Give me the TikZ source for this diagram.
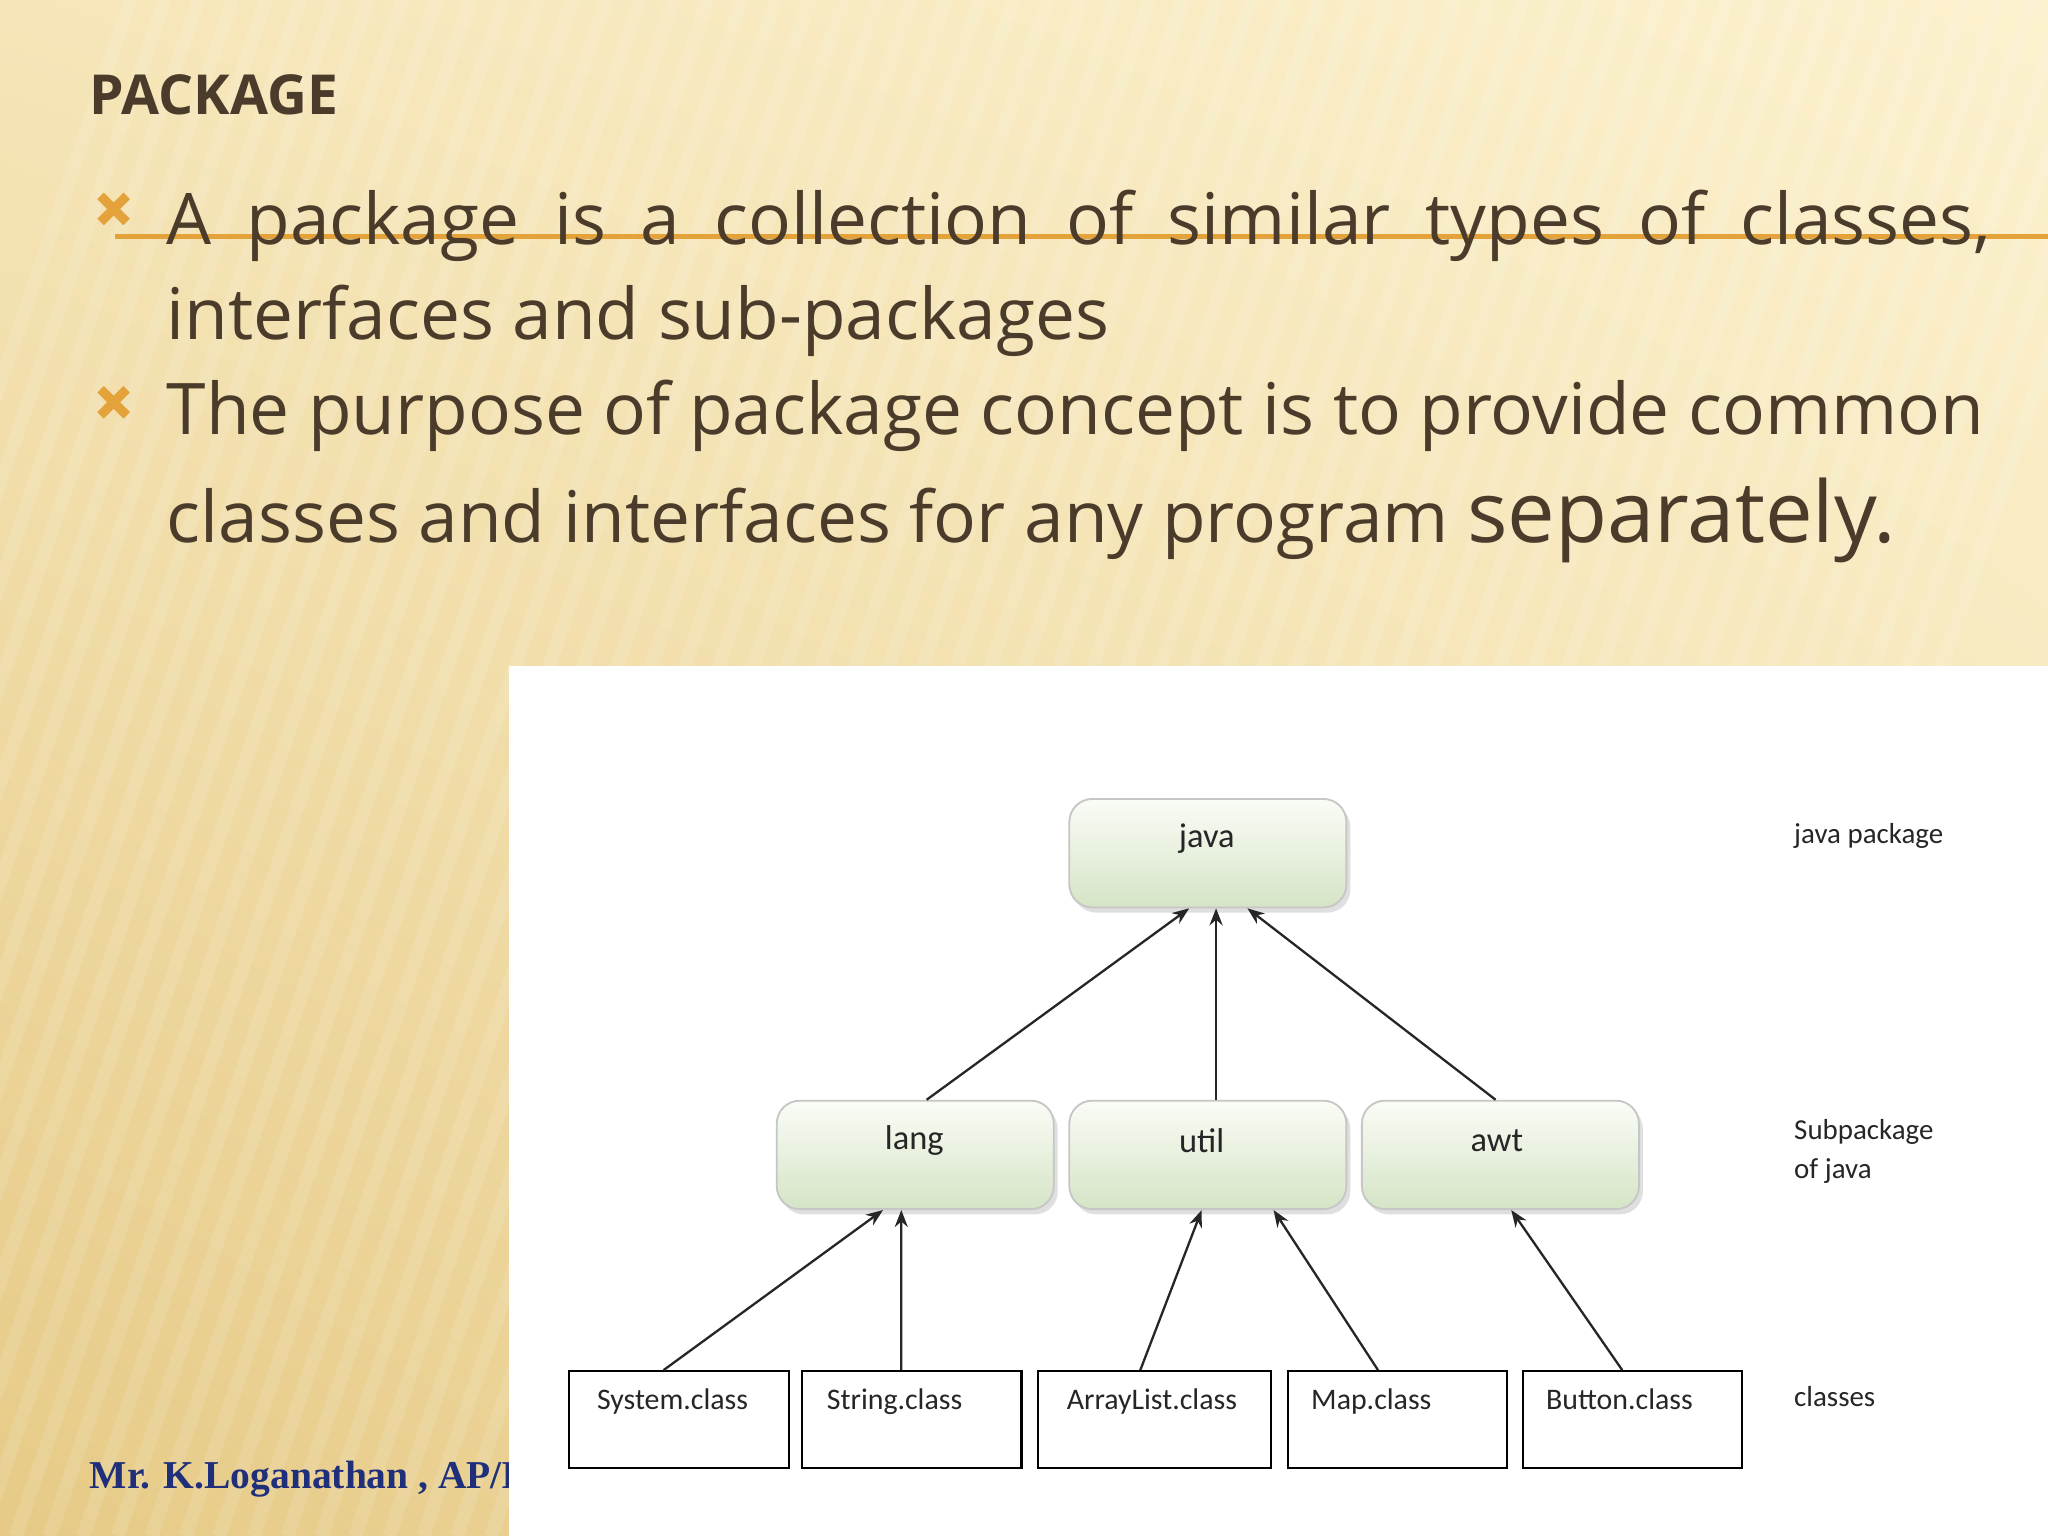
\documentclass[tikz,border=0pt]{standalone}
\usepackage{fontspec}
\setmainfont{Open Sans}
\newfontfamily\carl{Carlito}
\newfontfamily\foot{Liberation Serif}
\usetikzlibrary{arrows.meta,shadows,shadings}
\definecolor{txt}{HTML}{4A3B2A}
\definecolor{orng}{HTML}{E3A23A}
\definecolor{navy}{HTML}{1F2F7A}
\definecolor{bgtop}{HTML}{FCF1CE}
\definecolor{bgbot}{HTML}{E6CA86}
\definecolor{gtop}{HTML}{FAFCF6}
\definecolor{gbot}{HTML}{D5E4C6}
\tikzset{
 pkg/.style={draw=gray!45, rounded corners=5pt, minimum width=2.12cm, minimum height=0.83cm,
   top color=gtop, bottom color=gbot, anchor=north west,
   drop shadow={shadow xshift=0.3mm, shadow yshift=-0.4mm, opacity=0.25}},
 plab/.style={font=\carl\fontsize{7.5}{9}\selectfont, text=black!85},
 cls/.style={draw=black, line width=0.5pt, minimum height=0.74cm, inner sep=0pt, anchor=north west, fill=white},
 arr/.style={-{Stealth[length=1.3mm,width=1mm]}, line width=0.5pt, draw=black!85},
 side/.style={anchor=base west, font=\carl\fontsize{6.3}{8.5}\selectfont, align=left, inner sep=0pt, text=black!85},
 body/.style={anchor=base west, inner sep=0pt, text=txt, font=\fontsize{15.5}{19}\selectfont},
 xmark/.style={draw=orng, line width=2pt}
}
\begin{document}
\begin{tikzpicture}[x=0.01cm,y=-0.01cm]
\useasboundingbox (0,0) rectangle (1568,1176);
\shade[upper right=bgtop, upper left=bgtop!70!bgbot, lower right=bgtop!60!bgbot, lower left=bgbot] (0,0) rectangle (1568,1176);
\foreach \i in {0,...,60} {
  \draw[white, opacity=0.12, line width=3pt] (\i*26-300,1176) -- (\i*26+100,0);
}
\node[anchor=base west, inner sep=0pt, text=txt, font=\bfseries\fontsize{12}{14}\selectfont] (title) at (68,88) {PACKAGE};
\draw[orng, line width=1.2pt] (88,181) -- (1568,181);
\draw[xmark] (77,150) -- (97,170) (97,150) -- (77,170);
\draw[xmark] (77,298) -- (97,318) (97,298) -- (77,318);
\node[body] (l1) at (127,187) {\makebox[13.96cm][s]{A package is a collection of similar types of classes,}};
\node[body] (l2) at (127,260) {interfaces and sub-packages};
\node[body] (l3) at (127,333) {The purpose of package concept is to provide common};
\node[body] (l4) at (127,415) {classes and interfaces for any program {\fontsize{18.5}{22}\selectfont separately.}};
\node[anchor=base west, inner sep=0pt, text=navy, font=\foot\bfseries\fontsize{8.6}{9}\selectfont] (footer) at (68,1140) {Mr. K.Loganathan , AP/IT};
\fill[white] (390,510) rectangle (1568,1176);
\node[pkg] (java) at (818,611) {};
\node[pkg] (lang) at (594,842) {};
\node[pkg] (util) at (818,842) {};
\node[pkg] (awt) at (1042,842) {};
\node[plab] (tjava) at (924,642) {java};
\node[plab] (tlang) at (700,873) {lang};
\node[plab] (tutil) at (920,873) {util};
\node[plab] (tawt) at (1146,873) {awt};
\node[cls, minimum width=1.68cm] (sys) at (435,1049) {};
\node[cls, minimum width=1.68cm] (str) at (613,1049) {};
\node[cls, minimum width=1.78cm] (al) at (794,1049) {};
\node[cls, minimum width=1.68cm] (map) at (985,1049) {};
\node[cls, minimum width=1.68cm] (btn) at (1165,1049) {};
\foreach \n/\t/\dx in {sys/System.class/-0.05,str/String.class/-0.13,al/ArrayList.class/-0.02,map/Map.class/-0.2,btn/Button.class/-0.1}
  \node[font=\carl\fontsize{6.5}{7}\selectfont, text=black!85, anchor=north] (t\n) at ([yshift=-0.02cm,xshift=\dx cm]\n.north) {\t};
\draw[arr] ([xshift=-0.98cm]lang.north east) -- ([xshift=-1.21cm]java.south east);
\draw[arr] ([xshift=1.13cm]util.north west) -- ([xshift=1.13cm]java.south west);
\draw[arr] ([xshift=1.03cm]awt.north west) -- ([xshift=1.37cm]java.south west);
\draw[arr] ([xshift=0.73cm]sys.north west) -- ([xshift=0.82cm]lang.south west);
\draw[arr] ([xshift=0.77cm]str.north west) -- ([xshift=0.96cm]lang.south west);
\draw[arr] ([xshift=0.79cm]al.north west) -- ([xshift=1.02cm]util.south west);
\draw[arr] ([xshift=0.70cm]map.north west) -- ([xshift=1.57cm]util.south west);
\draw[arr] ([xshift=0.77cm]btn.north west) -- ([xshift=1.15cm]awt.south west);
\node[side] (l_java) at (1373,646) {java package};
\node[side] (l_sub) at (1373,902) {Subpackage\\of java};
\node[side] (l_cls) at (1373,1077) {classes};
\end{tikzpicture}
\end{document}
